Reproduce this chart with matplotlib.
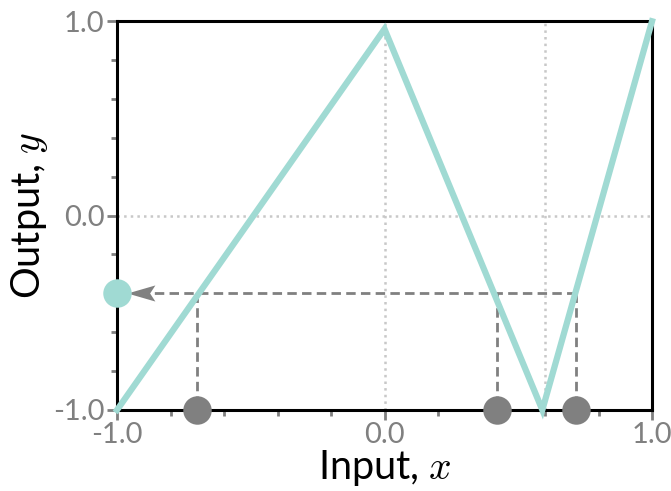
import matplotlib.pyplot as plt
from matplotlib.path import Path

plt.rcParams['font.family'] = ['Lato', 'DejaVu Sans']
plt.rcParams['mathtext.fontset'] = 'cm'

# piecewise-linear map
curve_x = [-1.0, 0.0, 0.59, 1.0]
curve_y = [-1.0, 0.96, -1.0, 1.0]

# level y = -0.4 and its three preimages
level_y = -0.4
preimages_x = [-0.70, 0.42, 0.715]

teal = '#a0dad3'
grey = '#808080'

fig = plt.figure(figsize=(6.71, 4.91), dpi=100)
ax = fig.add_axes([0.1744, 0.165, 0.7973, 0.7917])

ax.set_xlim(-1, 1)
ax.set_ylim(-1, 1)

# dotted guide lines
for gx in [0.0, 0.6]:
    ax.axvline(gx, color='#c8c8c8', ls=':', lw=1.8, zorder=1)
ax.axhline(0.0, color='#c8c8c8', ls=':', lw=1.8, zorder=1)

ax.plot(curve_x, curve_y, color=teal, lw=4.5, solid_joinstyle='miter',
        clip_on=False, zorder=3)

# dashed construction lines
dash = (3.4, 1.9)
ax.plot([max(preimages_x), -0.89], [level_y, level_y], color=grey, lw=2.0,
        dashes=dash, zorder=2)
for px in preimages_x:
    ax.plot([px, px], [level_y, -1], color=grey, lw=2.0, dashes=dash, zorder=2)

# stealth-style arrow head pointing left, tip touching the teal dot
head = Path([(-1, 0), (1, 0.58), (0.62, 0), (1, -0.58), (-1, 0)],
            [Path.MOVETO, Path.LINETO, Path.LINETO, Path.LINETO, Path.CLOSEPOLY])
ax.plot([-0.91], [level_y], marker=head, ms=20, color=grey, mec='none',
        ls='none', zorder=4)

ax.plot(preimages_x, [-1] * len(preimages_x), 'o', color=grey, ms=20.5,
        mec='none', clip_on=False, zorder=5)
ax.plot([-1], [level_y], 'o', color=teal, ms=20.5, mec='none', clip_on=False, zorder=5)

for s in ax.spines.values():
    s.set_linewidth(2.2)
    s.set_color('black')

ax.set_xticks([-1, 0, 1])
ax.set_yticks([-1, 0, 1])
ax.set_xticks([-0.8, -0.6, -0.4, -0.2, 0.2, 0.4, 0.6, 0.8], minor=True)
ax.set_yticks([-0.8, -0.6, -0.4, -0.2, 0.2, 0.4, 0.6, 0.8], minor=True)
ax.set_xticklabels(['-1.0', '0.0', '1.0'])
ax.set_yticklabels(['-1.0', '0.0', '1.0'])
ax.tick_params(which='major', length=7, width=2, color=grey, labelcolor=grey,
               labelsize=21, pad=2)
ax.tick_params(which='minor', length=4.5, width=2, color=grey)

ax.set_xlabel('Input, $x$', fontsize=28.5, labelpad=0)
ax.set_ylabel('Output, $y$', fontsize=28.5, labelpad=2)

fig.savefig('out.png', dpi=100)
